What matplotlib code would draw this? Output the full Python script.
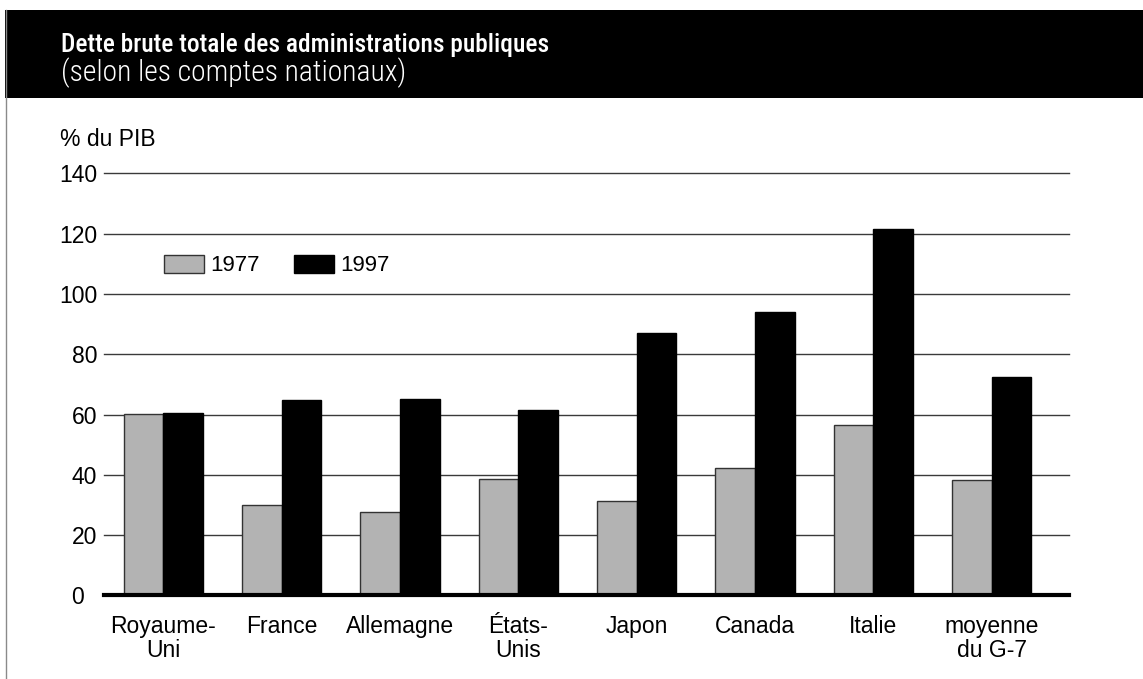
import matplotlib
matplotlib.use("Agg")
import matplotlib.pyplot as plt
from matplotlib import font_manager
from matplotlib.patches import Rectangle, Patch
from matplotlib.lines import Line2D
import numpy as np

categories = ["Royaume-\nUni", "France", "Allemagne", "États-\nUnis", "Japon",
              "Canada", "Italie", "moyenne\ndu G-7"]
values_1977 = [60.2, 30.0, 27.7, 38.7, 31.4, 42.3, 56.4, 38.4]
values_1997 = [60.5, 64.7, 65.2, 61.6, 87.2, 93.9, 121.7, 72.5]
yticks = [0, 20, 40, 60, 80, 100, 120, 140]
ytick_labels = ["0  ", "20", "40", "60", "80", "100", "120", "140"]
series_labels = ["1977", "1997"]

names = {f.name for f in font_manager.fontManager.ttflist}
narrow = "Roboto Condensed" if "Roboto Condensed" in names else "Liberation Sans"
plt.rcParams["font.family"] = ["Liberation Sans", "DejaVu Sans"]

W, H = 1143, 679
fig = plt.figure(figsize=(W / 100, H / 100), dpi=100)

# header band
fig.patches.append(Rectangle((5 / W, 1 - 98 / H), 1 - 5 / W, 88 / H,
                             transform=fig.transFigure, facecolor="black",
                             edgecolor="none", zorder=0))
fig.lines.append(Line2D([6 / W, 6 / W], [0, 1 - 10 / H], transform=fig.transFigure,
                        color="#8a8a8a", lw=1.0))
fig.text(61 / W, 1 - 51.7 / H, "Dette brute totale des administrations publiques",
         color="white", fontsize=18.3, fontweight="medium", family=[narrow, "DejaVu Sans"],
         va="baseline", ha="left")
fig.text(61 / W, 1 - 81 / H, "(selon les comptes nationaux)",
         color="white", fontsize=21.3, fontweight="light", family=[narrow, "DejaVu Sans"],
         va="baseline", ha="left")
fig.text(60 / W, 1 - 145.7 / H, "% du PIB", fontsize=16.5, va="baseline", ha="left")

ax = fig.add_axes([104 / W, 1 - 595.3 / H, 965 / W, 421.8 / H])
x = np.arange(len(categories))
bw = 0.335
ax.bar(x - bw / 2, values_1977, width=bw, color="#b3b3b3", edgecolor="#333333",
       linewidth=1.0, zorder=3, label=series_labels[0])
ax.bar(x + bw / 2, values_1997, width=bw, color="black", edgecolor="black",
       linewidth=1.0, zorder=3, label=series_labels[1])

ax.set_xlim(-0.5, 7.652)
ax.set_ylim(0, 140)
ax.set_yticks(yticks)
ax.set_yticklabels(ytick_labels)
ax.set_xticks(x)
ax.set_xticklabels(categories, linespacing=1.05)
ax.tick_params(axis="both", length=0, labelsize=16.5)
ax.tick_params(axis="y", pad=5)
ax.tick_params(axis="x", pad=14)
for s in ax.spines.values():
    s.set_visible(False)
for v in yticks[1:]:
    ax.axhline(v, color="#3a3a3a", lw=1.0, zorder=1, clip_on=False)
ax.axhline(0, color="black", lw=3.0, zorder=4, clip_on=False)

handles = [Patch(facecolor="#b3b3b3", edgecolor="#333333", linewidth=1.0),
           Patch(facecolor="black", edgecolor="black", linewidth=1.0)]
fig.legend(handles, series_labels, loc="center left",
           bbox_to_anchor=(164 / W, 1 - 265.5 / H), ncol=2, frameon=False,
           fontsize=16, handlelength=40 / 22.2, handleheight=20 / 22.2,
           handletextpad=0.3, columnspacing=1.5, borderpad=0, borderaxespad=0)

fig.savefig("out.png", dpi=100)
